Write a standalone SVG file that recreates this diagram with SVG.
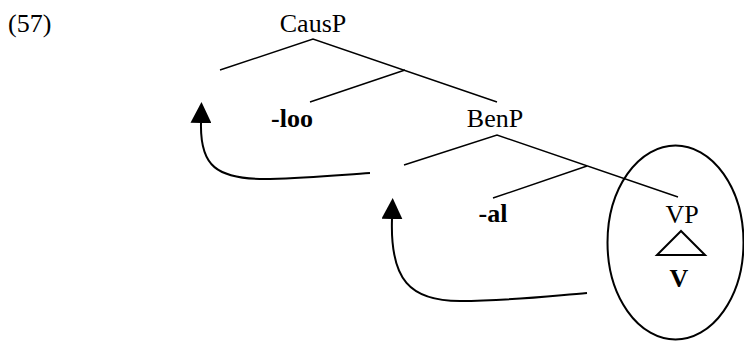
<svg xmlns="http://www.w3.org/2000/svg" width="744" height="341" viewBox="0 0 744 341">
<defs>
<style>
text{font-family:"Liberation Serif","Times New Roman",serif;font-size:26px;fill:#000}
.b{font-weight:bold}
.t{stroke:#000;stroke-width:1.4;fill:none}
.a{stroke:#000;stroke-width:2;fill:none}
</style>
<marker id="ah" markerUnits="userSpaceOnUse" viewBox="0 0 21 21" markerWidth="21" markerHeight="21" refX="0" refY="10.5" orient="auto-start-reverse">
<path d="M0,0 L21,10.5 L0,21 z" fill="#000"/>
</marker>
</defs>
<rect width="744" height="341" fill="#fff"/>
<text x="8" y="32">(57)</text>
<g id="causp"><text x="313" y="32" text-anchor="middle">CausP</text></g>
<g id="loo"><text class="b" x="292" y="127" text-anchor="middle">-loo</text></g>
<g id="benp"><text x="495" y="127" text-anchor="middle">BenP</text></g>
<g id="al"><text class="b" x="493" y="222" text-anchor="middle">-al</text></g>
<g id="vp">
<ellipse cx="675.5" cy="242.5" rx="68" ry="97" class="a"/>
<text x="682" y="223" text-anchor="middle">VP</text>
<polygon points="681,231 657,255 705,255" class="a"/>
<text class="b" x="679" y="287" text-anchor="middle">V</text>
</g>
<g id="connectors">
<path class="t" d="M220,70 L313,39 L497,102"/>
<path class="t" d="M310,102 L405,70"/>
<path class="t" d="M404,165 L497,135 L678,197"/>
<path class="t" d="M493,198 L587,166"/>
<path class="a" marker-start="url(#ah)" d="M201,123 C200,165 215,180 270,179 C310,178 340,175 370,173"/>
<path class="a" marker-start="url(#ah)" d="M392,219 C390,280 410,301 460,301 C510,301 550,296 587,293"/>
</g>
</svg>
